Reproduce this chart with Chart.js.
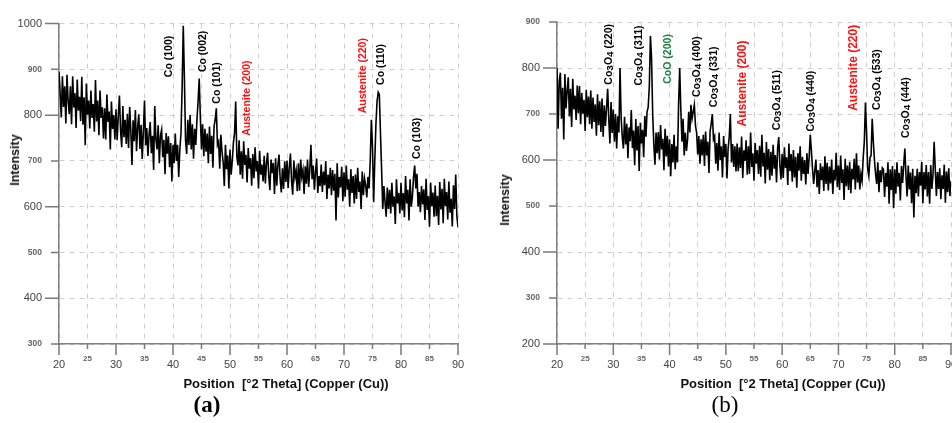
<!DOCTYPE html>
<html>
<head>
<meta charset="utf-8">
<script src="https://cdn.jsdelivr.net/npm/chart.js@4.4.1/dist/chart.umd.min.js"></script>
<style>
  body { margin: 0; width: 952px; height: 423px; overflow: hidden; background: #fff; position: relative;
         font-family: "Liberation Sans", Arial, sans-serif; }
  canvas { position: absolute; top: 0; }
  .ytitle { position: absolute; font-weight: bold; font-size: 12.5px; color: #111; white-space: nowrap;
            transform: translate(-50%, -50%) rotate(-90deg); }
  .xtitle { position: absolute; font-weight: bold; font-size: 13px; color: #111; white-space: pre;
            transform: translate(-50%, -50%); }
  .caption { position: absolute; font-family: "Liberation Serif", "Times New Roman", serif; font-size: 23px;
             color: #000; transform: translate(-50%, -50%); }
</style>
</head>
<body>
<canvas id="chartA" width="478" height="400" style="left:0"></canvas>
<canvas id="chartB" width="480" height="400" style="left:490px"></canvas>

<div class="ytitle" style="left:15px;top:160px">Intensity</div>
<div class="ytitle" style="left:505px;top:200px">Intensity</div>
<div class="xtitle" style="left:286px;top:383px">Position  [°2 Theta] (Copper (Cu))</div>
<div class="xtitle" style="left:783px;top:383px">Position  [°2 Theta] (Copper (Cu))</div>
<div class="caption" style="left:207px;top:405px;font-weight:bold">(a)</div>
<div class="caption" style="left:725px;top:405px">(b)</div>

<script>
// scan grid: 20° to 90° 2θ, 0.2° steps
const startAngle = 20;
const angleStep = 0.2;

// pattern (a)
const intensityA = [
  895, 848, 795, 885, 818, 863, 782, 888, 832, 802,
  863, 780, 885, 817, 848, 772, 878, 810, 840, 787,
  884, 779, 839, 734, 869, 801, 832, 771, 854, 794,
  824, 764, 877, 786, 832, 756, 854, 794, 817, 749,
  815, 747, 845, 785, 808, 725, 830, 770, 800, 747,
  813, 745, 798, 843, 767, 730, 820, 752, 790, 737,
  803, 728, 818, 766, 691, 789, 743, 811, 721, 774,
  802, 726, 779, 704, 764, 832, 734, 772, 711, 757,
  785, 717, 755, 680, 820, 748, 725, 778, 695, 755,
  768, 708, 746, 671, 761, 716, 754, 686, 739, 655,
  735, 695, 760, 700, 735, 665, 725, 760, 860, 995,
  880, 745, 715, 790, 735, 800, 725, 780, 705, 770,
  735, 790, 830, 880, 795, 725, 780, 710, 770, 720,
  760, 695, 775, 715, 755, 685, 775, 790, 815, 735,
  742, 683, 757, 720, 697, 645, 735, 682, 712, 640,
  725, 670, 700, 740, 760, 830, 710, 690, 745, 670,
  721, 661, 743, 691, 713, 653, 728, 683, 706, 646,
  715, 662, 730, 677, 700, 640, 722, 670, 692, 655,
  711, 651, 696, 718, 666, 636, 703, 673, 696, 628,
  706, 646, 691, 714, 661, 631, 684, 639, 699, 654,
  701, 641, 686, 716, 656, 626, 701, 664, 679, 634,
  695, 635, 703, 665, 680, 628, 688, 650, 703, 643,
  682, 735, 660, 690, 637, 675, 705, 630, 667, 645,
  692, 632, 677, 647, 700, 617, 670, 640, 685, 625,
  680, 635, 672, 570, 695, 620, 665, 642, 687, 612,
  675, 622, 690, 637, 660, 600, 682, 630, 667, 607,
  670, 617, 685, 632, 655, 595, 677, 625, 662, 647,
  620, 665, 640, 700, 790, 730, 610, 700, 780, 830,
  850, 845, 760, 680, 595, 645, 610, 578, 642, 595,
  637, 585, 652, 600, 622, 562, 660, 607, 630, 585,
  652, 592, 630, 577, 667, 607, 637, 570, 660, 600,
  622, 665, 690, 640, 672, 600, 632, 588, 645, 605,
  638, 571, 661, 593, 623, 556, 653, 601, 631, 578,
  646, 579, 624, 560, 654, 594, 639, 564, 661, 601,
  632, 572, 655, 587, 617, 557, 647, 595, 670, 580,
  555
];

// pattern (b)
const intensityB = [
  800, 668, 772, 790, 690, 757, 645, 787, 712, 750,
  780, 695, 755, 672, 777, 710, 740, 687, 762, 702,
  761, 678, 746, 701, 731, 663, 753, 693, 738, 678,
  751, 668, 736, 683, 721, 653, 743, 676, 728, 661,
  734, 651, 719, 674, 712, 755, 689, 636, 726, 659,
  710, 640, 700, 625, 695, 660, 800, 690, 650, 625,
  694, 634, 679, 604, 671, 641, 709, 626, 664, 589,
  689, 621, 674, 576, 681, 636, 666, 606, 696, 651,
  705, 715, 760, 870, 820, 700, 635, 590, 660, 615,
  661, 601, 676, 623, 646, 578, 668, 608, 653, 586,
  645, 565, 635, 595, 655, 580, 630, 595, 720, 800,
  710, 640, 690, 610, 660, 620, 645, 705, 660, 720,
  690, 705, 720, 675, 660, 612, 652, 592, 645, 610,
  655, 587, 662, 610, 640, 572, 662, 680, 700, 645,
  652, 592, 637, 577, 660, 600, 630, 562, 652, 607,
  635, 560, 625, 650, 700, 595, 635, 585, 630, 575,
  636, 576, 628, 583, 651, 561, 621, 598, 643, 568,
  630, 570, 660, 585, 615, 555, 637, 592, 622, 570,
  631, 564, 655, 586, 616, 549, 639, 579, 624, 556,
  618, 566, 633, 581, 611, 551, 626, 650, 588, 558,
  613, 561, 628, 583, 606, 546, 636, 576, 613, 553,
  622, 562, 607, 540, 615, 577, 630, 555, 607, 570,
  600, 547, 615, 570, 607, 655, 620, 580, 548, 577,
  601, 541, 578, 526, 593, 556, 586, 533, 608, 548,
  594, 534, 586, 549, 601, 526, 579, 556, 616, 541,
  588, 535, 610, 550, 580, 513, 603, 543, 588, 535,
  596, 528, 581, 558, 603, 536, 615, 551, 588, 536,
  570, 555, 605, 640, 725, 660, 580, 565, 605, 610,
  690, 640, 600, 570, 548, 595, 530, 578, 552, 583,
  580, 520, 572, 542, 595, 505, 580, 535, 587, 495,
  580, 527, 595, 542, 572, 512, 587, 550, 590, 625,
  566, 521, 588, 536, 573, 506, 581, 475, 566, 528,
  581, 521, 574, 544, 596, 506, 574, 536, 589, 521,
  574, 505, 589, 537, 567, 640, 582, 522, 574, 537,
  582, 515, 567, 537, 590, 507, 575, 530, 582, 522,
  555
];

// peak assignments: label text, 2θ where the label sits, intensity where the text starts
const peaksA = [
  { text: 'Co (100)', at: 39.3, base: 883 },
  { text: 'Co (002)', at: 45.3, base: 894 },
  { text: 'Co (101)', at: 47.7, base: 825 },
  { text: 'Austenite (200)', at: 53.0, base: 755, color: '#ff1010' },
  { text: 'Austenite (220)', at: 73.3, base: 804, color: '#ff1010' },
  { text: 'Co (110)', at: 76.5, base: 866 },
  { text: 'Co (103)', at: 82.8, base: 704 }
];

const peaksB = [
  { text: 'Co3O4 (220)', at: 29.2, base: 764 },
  { text: 'Co3O4 (311)', at: 34.6, base: 762 },
  { text: 'CoO (200)', at: 39.7, base: 766, color: '#1d8040' },
  { text: 'Co3O4 (400)', at: 44.9, base: 737 },
  { text: 'Co3O4 (331)', at: 47.9, base: 715 },
  { text: 'Austenite (200)', at: 53.0, base: 673, color: '#ff1010', size: 12 },
  { text: 'Co3O4 (511)', at: 59.1, base: 665 },
  { text: 'Co3O4 (440)', at: 65.1, base: 662 },
  { text: 'Austenite (220)', at: 72.75, base: 707, color: '#ff1010', size: 12 },
  { text: 'Co3O4 (533)', at: 76.8, base: 709 },
  { text: 'Co3O4 (444)', at: 82.0, base: 648 }
];

const FONT = '"Liberation Sans", Arial, sans-serif';

function toPoints(values) {
  return values.map((v, i) => ({ x: +(startAngle + i * angleStep).toFixed(1), y: v }));
}

// split "Co3O4" style formulas so digits after a letter become subscripts
function splitFormula(text) {
  const parts = [];
  for (let i = 0; i < text.length; i++) {
    const ch = text[i];
    const sub = /\d/.test(ch) && i > 0 && /[A-Za-z]/.test(text[i - 1]);
    const last = parts[parts.length - 1];
    if (last && last.sub === sub) last.s += ch;
    else parts.push({ s: ch, sub });
  }
  return parts;
}

// vertical peak labels
const peakLabels = {
  id: 'peakLabels',
  afterDatasetsDraw(chart, args, opts) {
    const { ctx, scales: { x, y } } = chart;
    for (const p of opts.items) {
      const size = p.size || 10.5;
      ctx.save();
      ctx.translate(x.getPixelForValue(p.at), y.getPixelForValue(p.base));
      ctx.rotate(-Math.PI / 2);
      ctx.fillStyle = p.color || '#000';
      ctx.textBaseline = 'middle';
      ctx.textAlign = 'left';
      let cx = 0;
      for (const part of splitFormula(p.text)) {
        const s = part.sub ? size * 0.95 : size;
        ctx.font = 'bold ' + s + 'px ' + FONT;
        ctx.fillText(part.s, cx, part.sub ? 1.5 : 0);
        cx += ctx.measureText(part.s).width;
      }
      ctx.restore();
    }
  }
};

// outward tick marks, long on major ticks, short on minor ones
const tickMarks = {
  id: 'tickMarks',
  afterDraw(chart) {
    const { ctx, chartArea, scales: { x, y } } = chart;
    ctx.save();
    ctx.strokeStyle = '#7a7a7a';
    ctx.lineWidth = 1.5;
    ctx.beginPath();
    x.ticks.forEach(t => {
      const px = x.getPixelForValue(t.value);
      const len = t.value % 10 === 0 ? 11 : 5;
      ctx.moveTo(px, chartArea.bottom);
      ctx.lineTo(px, chartArea.bottom + len);
    });
    y.ticks.forEach(t => {
      const py = y.getPixelForValue(t.value);
      const len = t.value % 200 === 0 ? 14 : 8;
      ctx.moveTo(chartArea.left, py);
      ctx.lineTo(chartArea.left - len, py);
    });
    ctx.stroke();
    ctx.restore();
  }
};

function makeChart(id, values, yMin, yMax, peaks, axisWidth, padTop, padRight) {
  return new Chart(document.getElementById(id), {
    type: 'line',
    data: {
      datasets: [{
        data: toPoints(values),
        borderColor: '#000',
        borderWidth: 1.6,
        pointRadius: 0,
        tension: 0
      }]
    },
    options: {
      responsive: false,
      animation: false,
      events: [],
      layout: { padding: { top: padTop, right: padRight, left: 0, bottom: 0 } },
      plugins: {
        legend: { display: false },
        tooltip: { enabled: false },
        peakLabels: { items: peaks }
      },
      scales: {
        x: {
          type: 'linear',
          min: 20,
          max: 90,
          afterFit: s => { s.height = 56; },
          ticks: {
            stepSize: 5,
            autoSkip: false,
            maxRotation: 0,
            padding: 4,
            callback: v => String(v),
            color: c => (c.tick && c.tick.value % 10 === 0) ? '#444' : '#666',
            font: c => (c.tick && c.tick.value % 10 === 0)
              ? { family: FONT, size: 11, lineHeight: '34px' }
              : { family: FONT, size: 8, weight: 'bold', lineHeight: '22px' }
          },
          grid: { color: '#cfcfcf', lineWidth: 1, drawTicks: false },
          border: { display: true, color: '#808080', width: 1.5, dash: [5, 5] }
        },
        y: {
          min: yMin,
          max: yMax,
          afterFit: s => { s.width = axisWidth; },
          ticks: {
            stepSize: 100,
            autoSkip: false,
            padding: 17,
            callback: v => String(v),
            color: c => (c.tick && c.tick.value % 200 === 0) ? '#444' : '#666',
            font: c => (c.tick && c.tick.value % 200 === 0)
              ? { family: FONT, size: 11 }
              : { family: FONT, size: 8.5, weight: 'bold' }
          },
          grid: { color: '#cfcfcf', lineWidth: 1, drawTicks: false },
          border: { display: true, color: '#808080', width: 1.5, dash: [5, 5] }
        }
      }
    },
    plugins: [tickMarks, peakLabels]
  });
}

makeChart('chartA', intensityA, 300, 1000, peaksA, 59, 15, 20);
makeChart('chartB', intensityB, 200, 900, peaksB, 67, 14, 19);
</script>
</body>
</html>
